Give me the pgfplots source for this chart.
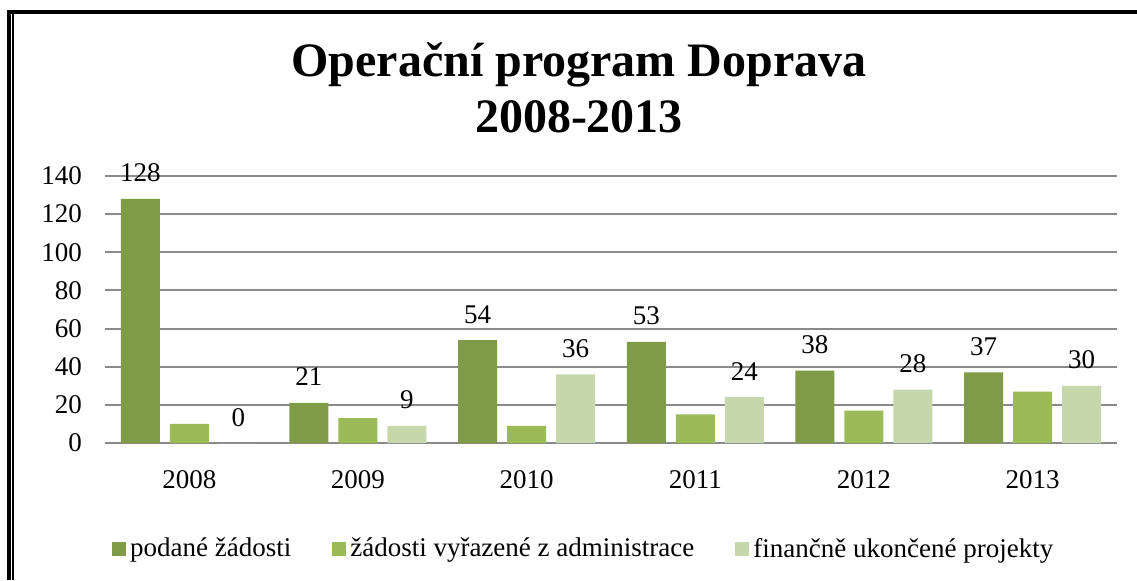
\documentclass[border=0pt]{standalone}
\usepackage{fontspec}
\setmainfont{Liberation Serif}
\usepackage{pgfplots}
\pgfplotsset{compat=1.18}
\definecolor{podane}{HTML}{7F9B48}
\definecolor{vyrazene}{HTML}{9BBB59}
\definecolor{ukoncene}{HTML}{C6D7AC}
\definecolor{gridgray}{HTML}{8A8A8A}

\begin{document}
\begin{tikzpicture}
% page = 1137 x 580 px, 1 px = 0.5pt, origin at plot's lower left
\useasboundingbox (-52.5pt,-68.5pt) rectangle (516pt,221.5pt);
\begin{axis}[
  name=ax, at={(0,0)}, anchor=south west,
  scale only axis, width=506pt, height=133.5pt,
  ybar=5pt, bar width=19.5pt,
  xmin=-0.5, xmax=5.5, ymin=0, ymax=140,
  xtick={0,...,5}, xticklabels={2008,2009,2010,2011,2012,2013},
  ytick={0,20,...,140},
  ymajorgrids, grid style={gridgray, line width=1pt},
  axis line style={draw=none}, major tick length=0pt,
  /pgf/number format/assume math mode=true,
  tick label style={font=\fontsize{13.5}{16}\selectfont},
  yticklabel style={xshift=-8pt},
  xticklabel style={yshift=-10pt},
  every node near coord/.append style={font=\fontsize{13.5}{16}\selectfont, anchor=base, yshift=8.5pt, text=black},
  legend columns=3,
  legend style={draw=none, fill=none, at={(0.474,-0.397)}, anchor=center,
    font=\fontsize{13.5}{16}\selectfont,
    /tikz/every even column/.append style={column sep=18.5pt}},
  legend image code/.code={\fill[#1] (0pt,-3.5pt) rectangle (7pt,3.5pt);},
]
\addplot[fill=podane, draw=none, nodes near coords] coordinates
  {(0,128) (1,21) (2,54) (3,53) (4,38) (5,37)};
\addplot[fill=vyrazene, draw=none] coordinates
  {(0,10) (1,13) (2,9) (3,15) (4,17) (5,27)};
\addplot[fill=ukoncene, draw=none, nodes near coords] coordinates
  {(0,0) (1,9) (2,36) (3,24) (4,28) (5,30)};
\legend{podané žádosti, žádosti vyřazené z administrace, finančně ukončené projekty}
\end{axis}
% title
\node[anchor=base, font=\fontsize{24}{28}\bfseries\selectfont] at (237pt,183pt) {Operační program Doprava};
\node[anchor=base, font=\fontsize{24}{28}\bfseries\selectfont] at (237pt,155pt) {2008-2013};
% frame
\draw[line width=2pt] (-48pt,-68.5pt) -- (-48pt,215.25pt) -- (516pt,215.25pt);
\draw[line width=0.75pt] (-46pt,-68.5pt) -- (-46pt,214.25pt);
\end{tikzpicture}
\end{document}
